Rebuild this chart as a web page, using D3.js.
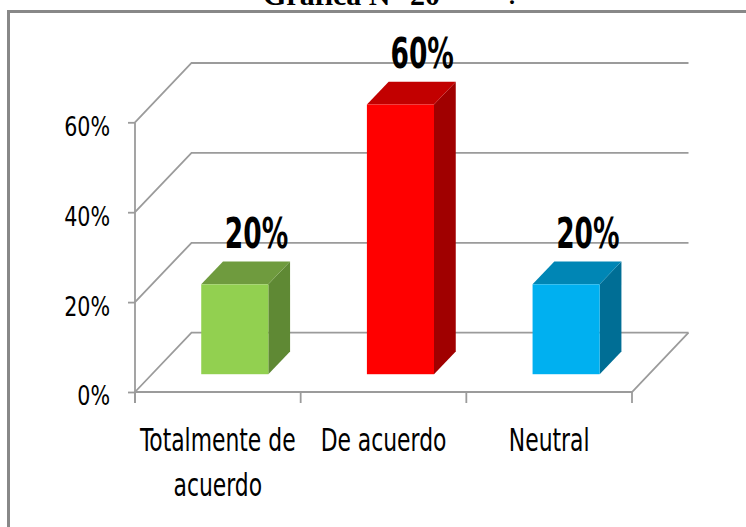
<!DOCTYPE html>
<html>
<head>
<meta charset="utf-8">
<script src="https://cdn.jsdelivr.net/npm/d3@7"></script>
<style>
  html, body { margin: 0; padding: 0; background: #ffffff; }
  svg { display: block; }
  .narrow { font-family: "DejaVu Sans Condensed", "DejaVu Sans", sans-serif; }
</style>
</head>
<body>
<svg id="chart" width="746" height="527"></svg>
<script>
// Survey answers and their shares
const categories = ["Totalmente de acuerdo", "De acuerdo", "Neutral"];
const values = [0.20, 0.60, 0.20];
const yTicks = [0, 0.2, 0.4, 0.6];
const titleText = "Gráfica N° 20";

// Face colours for each column: front, top and right side
const frontColors = ["#92D050", "#FF0000", "#00B0F0"];
const topColors = ["#6F9B3E", "#C20000", "#0086B5"];
const sideColors = ["#5F8934", "#A00000", "#006E95"];

const svg = d3.select("#chart");
const gridColor = "#9b9b9b";
const pct = d3.format(".0%");

// Frame around the chart area
svg.append("rect")
  .attr("x", 8.5).attr("y", 11.5)
  .attr("width", 760).attr("height", 540)
  .attr("fill", "#ffffff")
  .attr("stroke", "#888888").attr("stroke-width", 3);

// Heading above the frame
svg.append("text")
  .attr("x", 263).attr("y", 5)
  .attr("font-family", "'Liberation Serif', 'Times New Roman', serif")
  .attr("font-weight", "bold").attr("font-size", 30)
  .attr("fill", "#000")
  .text(titleText);
svg.append("text")
  .attr("x", 509).attr("y", 4)
  .attr("font-family", "'Liberation Serif', 'Times New Roman', serif")
  .attr("font-weight", "bold").attr("font-size", 24)
  .attr("fill", "#000")
  .text(".");

// Scales
const x = d3.scaleBand().domain(categories).range([135, 632]).padding(0);
const y = d3.scaleLinear().domain([0, 0.6]).range([392, 122.3]);

// Oblique depth of the floor
const DX = 56.5, DY = -59.3;
const xEnd = x.range()[1];
const x0Axis = x.range()[0];

// Gridlines: run back from the value axis, then across the back wall
const grid = svg.append("g").attr("fill", "none").attr("stroke", gridColor).attr("stroke-width", 1.8);
grid.selectAll("path.grid")
  .data(yTicks)
  .join("path")
  .attr("class", "grid")
  .attr("d", v => `M${x0Axis},${y(v)} L${x0Axis + DX},${y(v) + DY} L${xEnd + DX},${y(v) + DY}`);

// Floor outline (front edge and right edge)
grid.append("path")
  .attr("d", `M${x0Axis},${y(0)} L${xEnd},${y(0)} L${xEnd + DX},${y(0) + DY}`);

// Value axis
const tickLen = 7, tickPad = 18;
const yAxis = d3.axisLeft(y)
  .tickValues(yTicks)
  .tickFormat(pct)
  .tickSize(tickLen)
  .tickSizeOuter(0)
  .tickPadding(tickPad);
const yg = svg.append("g").attr("transform", `translate(${x0Axis},0)`).call(yAxis);
yg.select(".domain").remove();
yg.selectAll(".tick line").attr("stroke", gridColor).attr("stroke-width", 1.8);
const ax = -(tickLen + tickPad);
yg.selectAll(".tick text")
  .attr("class", "narrow")
  .attr("font-size", 27)
  .attr("fill", "#000")
  .attr("dy", "0.48em")
  .attr("transform", `translate(${ax},0) scale(0.85,1) translate(${-ax},0)`);
svg.append("line")
  .attr("x1", x0Axis).attr("x2", x0Axis)
  .attr("y1", y(0.6)).attr("y2", y(0) + 11)
  .attr("stroke", gridColor).attr("stroke-width", 1.8);

// Category ticks sit on the band boundaries
const boundaries = categories.map(c => x(c)).concat([xEnd]);
svg.append("g").selectAll("line")
  .data(boundaries)
  .join("line")
  .attr("x1", d => d).attr("x2", d => d)
  .attr("y1", y(0)).attr("y2", y(0) + 11)
  .attr("stroke", gridColor).attr("stroke-width", 1.8);

// Category labels, wrapped to the band width
const catSX = 0.81, catSY = 1.05, base = 59.5, lineGap = 44.5 / catSY;
const xAxis = d3.axisBottom(x).tickSize(0).tickPadding(0);
const xg = svg.append("g").attr("transform", `translate(0,${y(0)})`).call(xAxis);
xg.select(".domain").remove();
xg.selectAll(".tick text")
  .attr("class", "narrow")
  .attr("font-size", 30)
  .attr("fill", "#000")
  .attr("dy", null)
  .each(function (d) {
    const t = d3.select(this);
    const words = d.split(" ");
    const maxW = (x.bandwidth() - 4) / catSX;
    t.text(null);
    let line = [];
    let tsp = t.append("tspan").attr("x", 0);
    for (const w of words) {
      line.push(w);
      tsp.text(line.join(" "));
      if (tsp.node().getComputedTextLength() > maxW && line.length > 1) {
        line.pop();
        tsp.text(line.join(" "));
        line = [w];
        tsp = t.append("tspan").attr("x", 0).text(w);
      }
    }
    t.selectAll("tspan").attr("y", (_, i) => base + i * lineGap);
    t.attr("transform", `translate(0,${base}) scale(${catSX},${catSY}) translate(0,${-base})`);
  });

// Columns
const bw = x.bandwidth() * 0.405;
const f0 = 0.30, fd = 0.385;
const ox = f0 * DX, oy = f0 * DY;
const dx = fd * DX, dy = fd * DY;

const bars = svg.append("g").selectAll("g.bar")
  .data(categories.map((c, i) => ({ c, v: values[i], i })))
  .join("g").attr("class", "bar");

bars.each(function (d) {
  const g = d3.select(this);
  const xl = x(d.c) + (x.bandwidth() - bw) / 2 + ox;
  const yb = y(0) + oy;
  const yt = y(d.v) + oy;
  g.append("path")
    .attr("fill", sideColors[d.i])
    .attr("d", `M${xl + bw},${yt} L${xl + bw + dx},${yt + dy} L${xl + bw + dx},${yb + dy} L${xl + bw},${yb} Z`);
  g.append("path")
    .attr("fill", topColors[d.i])
    .attr("d", `M${xl},${yt} L${xl + dx},${yt + dy} L${xl + bw + dx},${yt + dy} L${xl + bw},${yt} Z`);
  g.append("rect")
    .attr("x", xl).attr("y", yt)
    .attr("width", bw).attr("height", yb - yt)
    .attr("fill", frontColors[d.i]);

  // Value label above the column
  const lx = xl + bw / 2 + dx;
  const ly = yt + dy - 13.5;
  g.append("text")
    .attr("class", "narrow")
    .attr("text-anchor", "middle")
    .attr("font-weight", "bold")
    .attr("font-size", 38)
    .attr("fill", "#000")
    .attr("transform", `translate(${lx},${ly}) scale(0.775,1.12)`)
    .text(pct(d.v));
});
</script>
</body>
</html>
